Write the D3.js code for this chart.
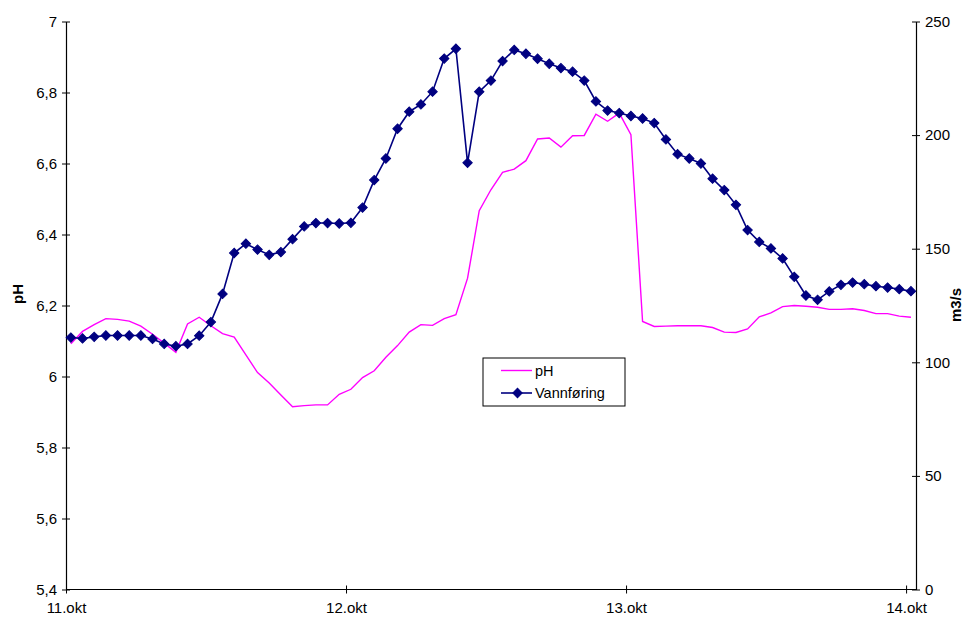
<!DOCTYPE html>
<html>
<head>
<meta charset="utf-8">
<script src="https://cdn.jsdelivr.net/npm/d3@7"></script>
<style>
  html, body { margin: 0; padding: 0; background: #fff; }
  svg { display: block; }
  text { font-family: "Liberation Sans", Arial, sans-serif; fill: #000; }
</style>
</head>
<body>
<div id="chart"></div>
<script>
// Hourly readings, 11.okt 00:25 to 14.okt 00:25
const seriesNames = ["pH", "Vannføring"];
const dayLabels = ["11.okt", "12.okt", "13.okt", "14.okt"];
const phTicks = [5.4, 5.6, 5.8, 6.0, 6.2, 6.4, 6.6, 6.8, 7.0];
const flowTicks = [0, 50, 100, 150, 200, 250];

const ph = [
  6.092, 6.127, 6.146, 6.163, 6.161, 6.156, 6.142, 6.119, 6.094, 6.068,
  6.148, 6.167, 6.143, 6.121, 6.111, 6.061, 6.011, 5.982, 5.948, 5.915,
  5.918, 5.920, 5.920, 5.950, 5.964, 5.997, 6.016, 6.054, 6.087, 6.125,
  6.146, 6.144, 6.163, 6.174, 6.277, 6.467, 6.526, 6.575, 6.584, 6.608,
  6.669, 6.672, 6.646, 6.678, 6.679, 6.739, 6.719, 6.742, 6.681, 6.155,
  6.141, 6.142, 6.143, 6.143, 6.143, 6.138, 6.125, 6.124, 6.134, 6.168,
  6.179, 6.197, 6.200, 6.198, 6.195, 6.189, 6.189, 6.191, 6.186, 6.177,
  6.177, 6.170, 6.167
];

const vannforing = [
  110.9, 110.5, 111.2, 111.8, 111.8, 111.8, 111.8, 110.3, 108.1, 107.1,
  108.1, 111.7, 117.7, 130.1, 148.1, 152.2, 149.6, 147.3, 148.5, 154.2,
  159.8, 161.3, 161.3, 161.1, 161.4, 168.1, 180.2, 189.7, 202.8, 210.3,
  213.5, 219.1, 233.7, 238.0, 187.8, 219.1, 224.0, 232.6, 237.5, 235.8,
  233.6, 231.4, 229.5, 227.9, 224.0, 214.8, 210.8, 209.7, 208.4, 207.3,
  205.3, 198.1, 191.6, 189.7, 187.5, 180.8, 175.8, 169.3, 158.2, 153.0,
  150.1, 145.7, 137.6, 129.4, 127.5, 131.2, 134.1, 135.1, 134.4, 133.5,
  132.9, 132.2, 131.3
];

const start = new Date(2000, 9, 11, 0, 25);
const times = vannforing.map((_, i) => d3.timeHour.offset(start, i));
const dayDates = dayLabels.map((_, i) => new Date(2000, 9, 11 + i));

const W = 973, H = 618;
const plotL = 66, plotR = 916, plotT = 21.5, plotB = 589.5;
const FS = 15;

const svg = d3.select("#chart").append("svg")
  .attr("width", W).attr("height", H);

const x = d3.scaleTime()
  .domain([new Date(2000, 9, 11), new Date(2000, 9, 14, 0, 51)])
  .range([plotL, plotR]);
const yPh = d3.scaleLinear().domain([5.4, 7]).range([plotB, plotT]);
const yFlow = d3.scaleLinear().domain([0, 250]).range([plotB, plotT]);

const fmtPh = v => (Number.isInteger(v) ? String(v) : v.toFixed(1)).replace(".", ",");

// Left axis (pH)
const axL = svg.append("g").attr("transform", `translate(${plotL},0)`)
  .call(d3.axisLeft(yPh).tickValues(phTicks).tickFormat(fmtPh).tickSizeInner(4).tickSizeOuter(0).tickPadding(5));
axL.selectAll(".tick line").attr("x2", -4).attr("x1", 4);

// Right axis (flow)
const axR = svg.append("g").attr("transform", `translate(${plotR},0)`)
  .call(d3.axisRight(yFlow).tickValues(flowTicks).tickSizeInner(4).tickSizeOuter(0).tickPadding(5));
axR.selectAll(".tick line").attr("x1", -4).attr("x2", 4);

// Bottom axis (dates)
const axB = svg.append("g").attr("transform", `translate(0,${plotB})`)
  .call(d3.axisBottom(x).tickValues(dayDates)
    .tickFormat((d, i) => dayLabels[i]).tickSizeInner(4).tickSizeOuter(0).tickPadding(9));
axB.selectAll(".tick line").attr("y1", -4).attr("y2", 4);
axB.select(".domain").attr("d", `M${plotL},0H${plotR}`);

svg.selectAll(".domain").attr("stroke", "#000").attr("stroke-width", 1.2);
svg.selectAll(".tick line").attr("stroke", "#000").attr("stroke-width", 1);
svg.selectAll(".tick text").attr("font-size", FS).attr("font-family", "Liberation Sans, Arial, sans-serif");

// Axis titles
svg.append("text")
  .attr("transform", "translate(23,294) rotate(-90)")
  .attr("text-anchor", "middle").attr("font-weight", "bold").attr("font-size", FS)
  .text("pH");
svg.append("text")
  .attr("transform", "translate(961,305) rotate(-90)")
  .attr("text-anchor", "middle").attr("font-weight", "bold").attr("font-size", FS)
  .text("m3/s");

// pH line
svg.append("path")
  .datum(ph)
  .attr("fill", "none").attr("stroke", "#FF00FF").attr("stroke-width", 1.4)
  .attr("d", d3.line().x((d, i) => x(times[i])).y(d => yPh(d)));

// Vannføring line with diamond markers
svg.append("path")
  .datum(vannforing)
  .attr("fill", "none").attr("stroke", "#000080").attr("stroke-width", 1.6)
  .attr("d", d3.line().x((d, i) => x(times[i])).y(d => yFlow(d)));

const diamond = d3.symbol().type(d3.symbolSquare).size(44)();
svg.append("g").selectAll("path")
  .data(vannforing)
  .join("path")
  .attr("d", diamond)
  .attr("transform", (d, i) => `translate(${x(times[i])},${yFlow(d)}) rotate(45)`)
  .attr("fill", "#000080").attr("stroke", "#000080").attr("stroke-width", 1);

// Legend
const lg = svg.append("g").attr("transform", "translate(483,358)");
lg.append("rect").attr("width", 142).attr("height", 48)
  .attr("fill", "#fff").attr("stroke", "#000").attr("stroke-width", 1);
const rows = [
  { name: seriesNames[0], color: "#FF00FF", marker: false, y: 12.5 },
  { name: seriesNames[1], color: "#000080", marker: true, y: 35 }
];
rows.forEach(r => {
  lg.append("line").attr("x1", 18).attr("x2", 49).attr("y1", r.y).attr("y2", r.y)
    .attr("stroke", r.color).attr("stroke-width", r.marker ? 1.6 : 1.4);
  if (r.marker) {
    lg.append("path").attr("d", diamond)
      .attr("transform", `translate(34.5,${r.y}) rotate(45)`)
      .attr("fill", r.color).attr("stroke", r.color);
  }
  lg.append("text").attr("x", 52).attr("y", r.y).attr("dy", "0.35em")
    .attr("font-size", 14.5).text(r.name);
});
</script>
</body>
</html>
